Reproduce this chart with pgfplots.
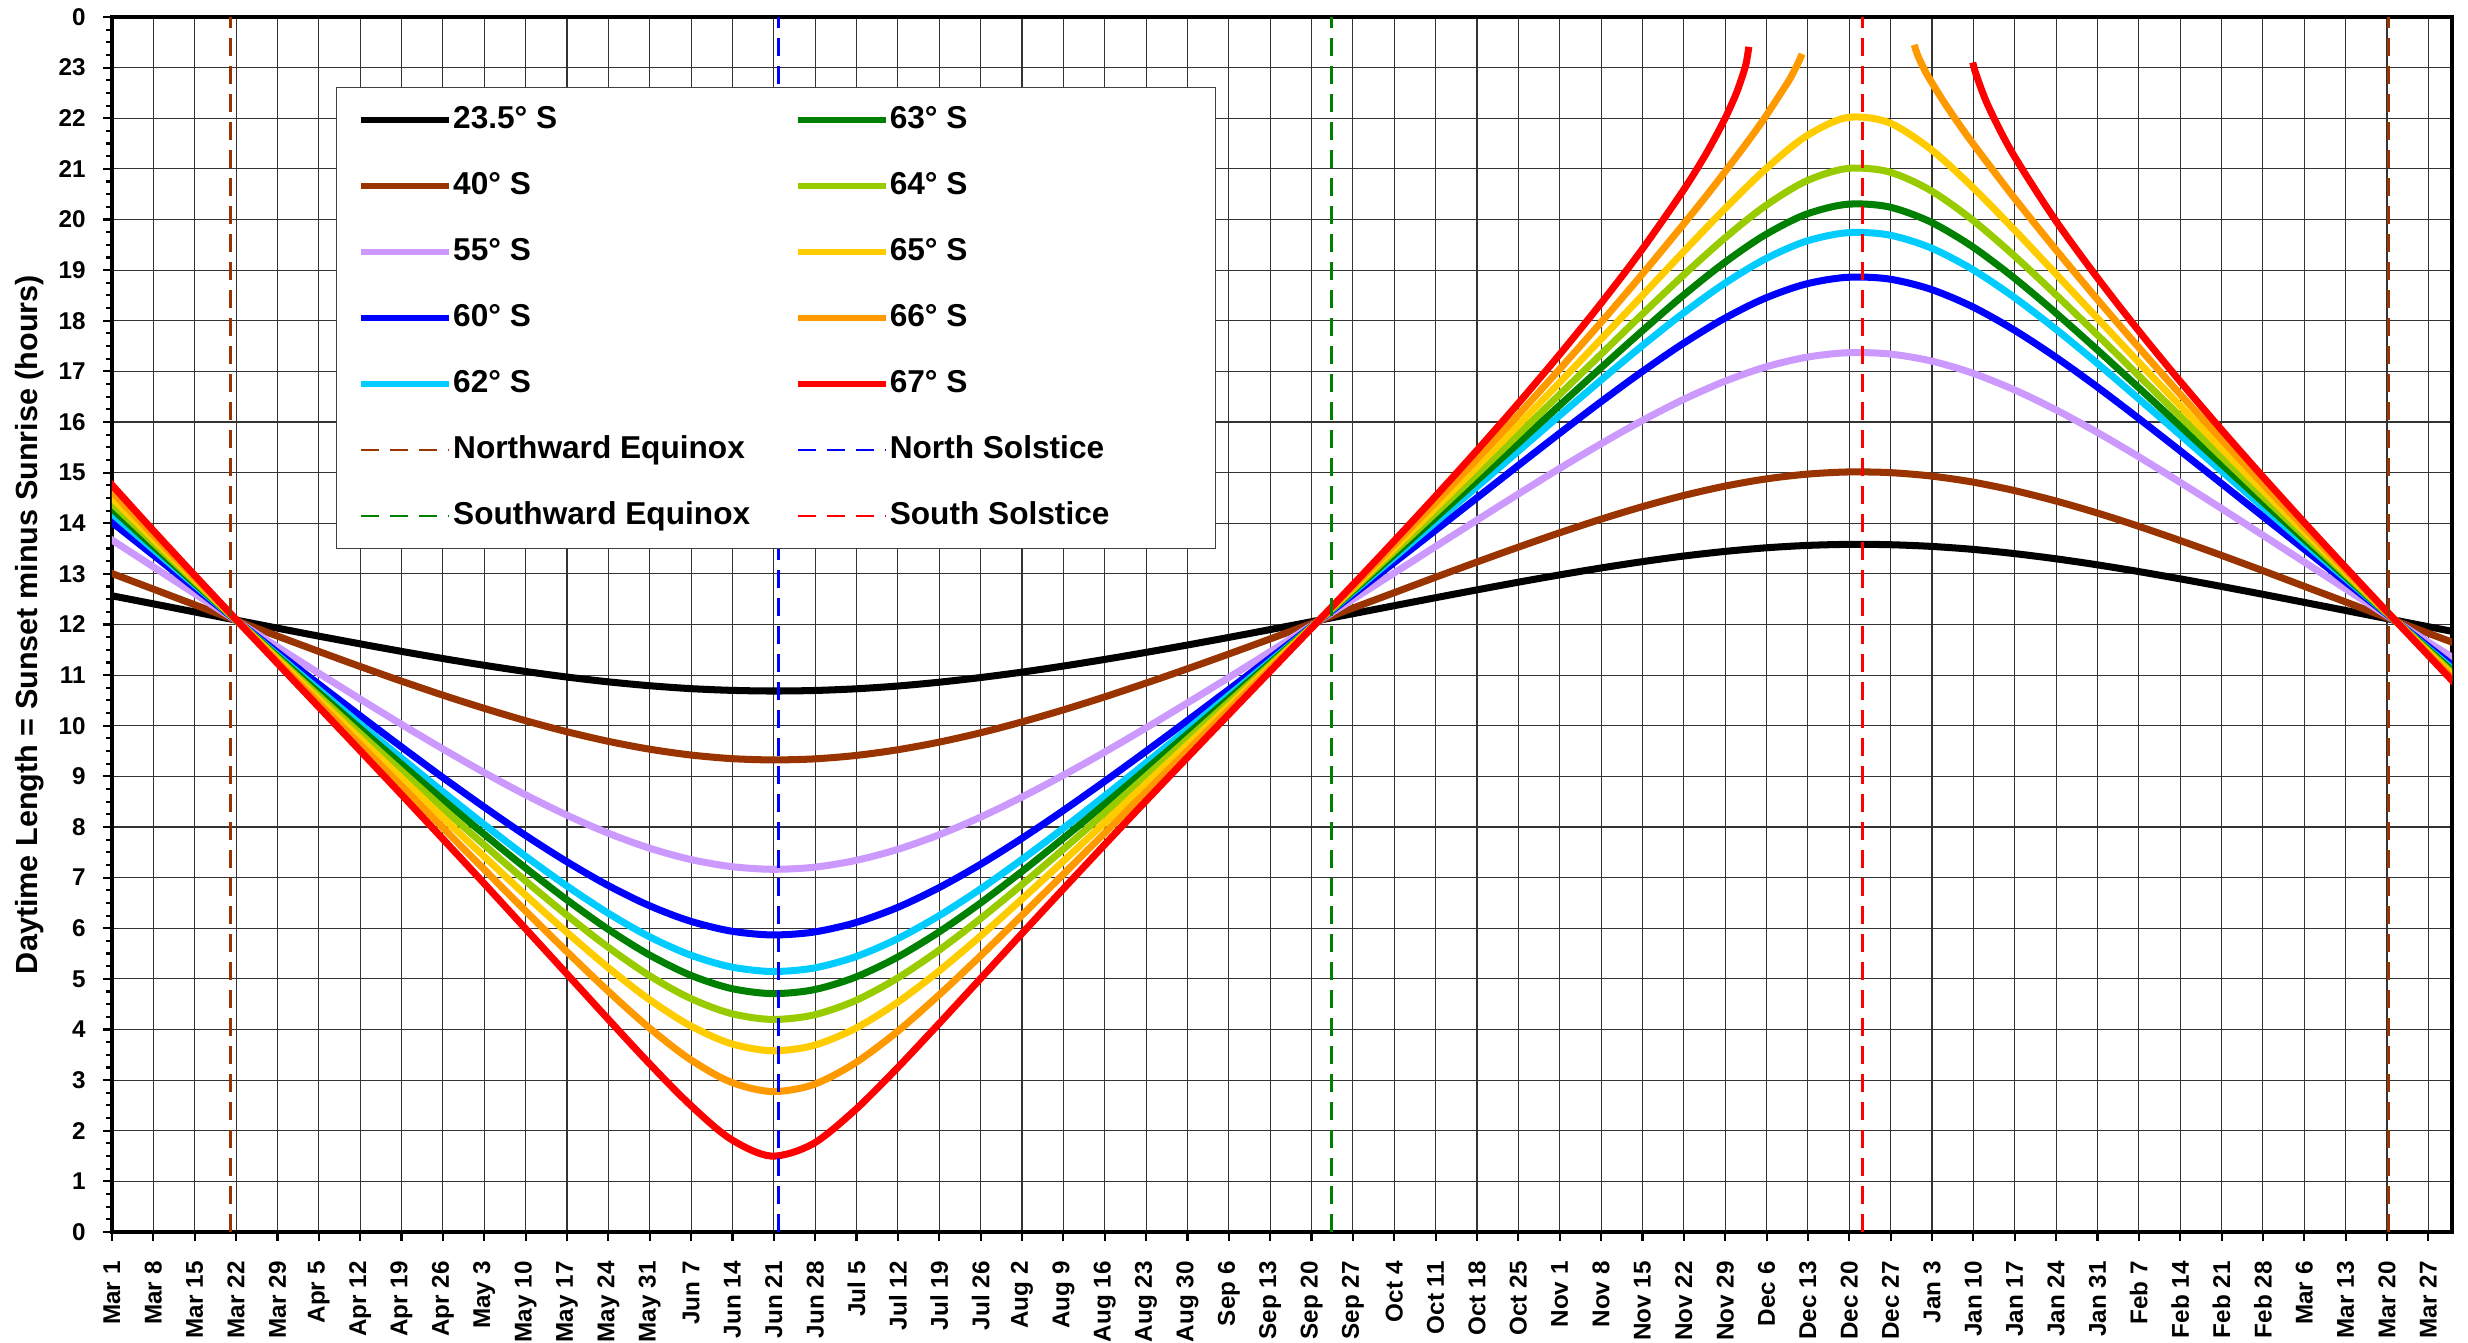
\documentclass[border=0pt]{standalone}
\usepackage{fontspec}
\setmainfont{Liberation Sans}
\usepackage{pgfplots}
\usepackage{pgfplotstable}
\pgfplotsset{compat=1.18}

\definecolor{c40}{HTML}{993300}
\definecolor{c55}{HTML}{CC99FF}
\definecolor{c60}{HTML}{0000FF}
\definecolor{c62}{HTML}{00CCFF}
\definecolor{c63}{HTML}{008000}
\definecolor{c64}{HTML}{99CC00}
\definecolor{c65}{HTML}{FFCC00}
\definecolor{c66}{HTML}{FF9900}
\definecolor{c67}{HTML}{FF0000}

% day length (h), x = days after Mar 1
\pgfplotstableread{
x a23 a40 a55 a60 a62 a63 a64 a65
-0.5 12.578 13.029 13.706 14.064 14.241 14.340 14.446 14.560
6.5 12.419 12.721 13.176 13.416 13.535 13.600 13.671 13.746
13.5 12.259 12.411 12.646 12.771 12.833 12.867 12.904 12.944
20.5 12.098 12.101 12.118 12.131 12.137 12.141 12.145 12.150
27.5 11.939 11.793 11.594 11.495 11.447 11.420 11.392 11.362
34.5 11.781 11.489 11.075 10.864 10.761 10.704 10.643 10.578
41.5 11.628 11.191 10.563 10.240 10.081 9.993 9.898 9.797
48.5 11.479 10.901 10.062 9.624 9.407 9.287 9.157 9.017
55.5 11.337 10.623 9.575 9.019 8.742 8.588 8.421 8.240
62.5 11.203 10.361 9.107 8.434 8.094 7.903 7.696 7.470
69.5 11.080 10.116 8.665 7.871 7.465 7.236 6.984 6.707
76.5 10.969 9.896 8.260 7.348 6.874 6.603 6.304 5.969
83.5 10.873 9.704 7.900 6.873 6.331 6.016 5.665 5.267
90.5 10.795 9.546 7.599 6.468 5.859 5.502 5.096 4.628
97.5 10.736 9.428 7.369 6.153 5.487 5.091 4.636 4.098
104.5 10.700 9.353 7.222 5.949 5.242 4.818 4.324 3.730
111.5 10.686 9.325 7.165 5.868 5.146 4.709 4.199 3.580
118.5 10.695 9.343 7.201 5.920 5.208 4.779 4.280 3.677
125.5 10.727 9.408 7.330 6.099 5.423 5.019 4.554 4.003
132.5 10.780 9.517 7.541 6.389 5.767 5.401 4.984 4.500
139.5 10.854 9.665 7.825 6.773 6.215 5.891 5.527 5.113
146.5 10.945 9.847 8.169 7.229 6.738 6.457 6.146 5.797
153.5 11.051 10.060 8.562 7.739 7.317 7.077 6.814 6.524
160.5 11.170 10.296 8.991 8.286 7.930 7.730 7.511 7.272
167.5 11.300 10.551 9.447 8.861 8.567 8.403 8.226 8.033
174.5 11.439 10.823 9.924 9.453 9.220 9.090 8.951 8.800
181.5 11.584 11.105 10.415 10.058 9.882 9.785 9.681 9.568
188.5 11.734 11.396 10.917 10.671 10.551 10.485 10.414 10.337
195.5 11.888 11.694 11.426 11.291 11.225 11.189 11.150 11.109
202.5 12.044 11.997 11.941 11.916 11.904 11.898 11.891 11.883
209.5 12.202 12.302 12.460 12.545 12.588 12.611 12.636 12.663
216.5 12.360 12.607 12.981 13.179 13.277 13.330 13.388 13.450
223.5 12.518 12.912 13.504 13.817 13.971 14.057 14.149 14.248
230.5 12.673 13.213 14.025 14.457 14.671 14.791 14.919 15.058
237.5 12.825 13.507 14.541 15.097 15.375 15.531 15.699 15.882
244.5 12.970 13.792 15.048 15.733 16.080 16.276 16.489 16.722
251.5 13.107 14.062 15.536 16.357 16.779 17.019 17.283 17.576
258.5 13.233 14.311 15.998 16.957 17.462 17.752 18.076 18.439
265.5 13.345 14.534 16.420 17.520 18.113 18.461 18.854 19.307
272.5 13.438 14.722 16.784 18.021 18.705 19.115 19.590 20.158
279.5 13.511 14.868 17.075 18.432 19.203 19.678 20.245 20.959
286.5 13.560 14.966 17.274 18.720 19.563 20.094 20.748 21.631
293.5 13.582 15.012 17.367 18.857 19.737 20.299 21.005 22.011
300.5 13.577 15.002 17.347 18.828 19.699 20.254 20.948 21.923
307.5 13.545 14.937 17.215 18.633 19.454 19.966 20.592 21.414
314.5 13.488 14.821 16.980 18.296 19.038 19.490 20.023 20.680
321.5 13.406 14.657 16.658 17.846 18.497 18.883 19.327 19.849
328.5 13.305 14.454 16.268 17.316 17.875 18.200 18.566 18.983
335.5 13.187 14.219 15.826 16.732 17.205 17.475 17.775 18.110
342.5 13.055 13.958 15.347 16.113 16.506 16.728 16.971 17.239
349.5 12.912 13.678 14.844 15.476 15.795 15.974 16.168 16.380
356.5 12.762 13.386 14.327 14.831 15.082 15.222 15.373 15.538
363.5 12.607 13.084 13.801 14.181 14.369 14.473 14.586 14.707
370.5 12.448 12.776 13.272 13.533 13.661 13.733 13.809 13.892
377.5 12.288 12.467 12.741 12.887 12.959 12.999 13.041 13.087
384.5 12.127 12.156 12.213 12.246 12.262 12.271 12.281 12.292
391.5 11.967 11.848 11.688 11.609 11.571 11.550 11.527 11.503
396.5 11.854 11.630 11.316 11.157 11.080 11.037 10.992 10.943
}\maintable

% 66 S: midnight sun gap around the December solstice
\pgfplotstableread{
x y
-0.5 14.684
6.5 13.829
13.5 12.986
20.5 12.155
27.5 11.329
34.5 10.507
41.5 9.687
48.5 8.865
55.5 8.042
62.5 7.220
69.5 6.398
76.5 5.592
83.5 4.808
90.5 4.073
97.5 3.436
104.5 2.972
111.5 2.775
118.5 2.903
125.5 3.318
132.5 3.921
139.5 4.633
146.5 5.401
153.5 6.199
160.5 7.009
167.5 7.822
174.5 8.635
181.5 9.446
188.5 10.255
195.5 11.064
202.5 11.876
209.5 12.693
216.5 13.518
223.5 14.356
230.5 15.210
237.5 16.083
244.5 16.980
251.5 17.902
258.5 18.855
265.5 19.843
269.5 20.422
272.5 20.872
276.5 21.489
279.5 21.976
283.5 22.692
284.5 22.897
285.5 23.130
286.0 23.270
295 nan
305.0 23.450
305.5 23.266
306.5 23.009
307.5 22.794
310.5 22.234
314.5 21.567
321.5 20.489
328.5 19.469
335.5 18.488
342.5 17.537
349.5 16.613
356.5 15.717
363.5 14.839
370.5 13.981
377.5 13.137
384.5 12.303
391.5 11.478
396.5 10.890
}\tsixsix

% 67 S
\pgfplotstableread{
x y
-0.5 14.819
6.5 13.917
13.5 13.033
20.5 12.160
27.5 11.294
34.5 10.431
41.5 9.568
48.5 8.700
55.5 7.825
62.5 6.944
69.5 6.052
76.5 5.159
83.5 4.264
90.5 3.381
97.5 2.549
104.5 1.851
111.5 1.500
118.5 1.733
125.5 2.382
132.5 3.191
139.5 4.059
146.5 4.944
153.5 5.833
160.5 6.715
167.5 7.590
174.5 8.456
181.5 9.314
188.5 10.166
195.5 11.016
202.5 11.868
209.5 12.724
216.5 13.591
223.5 14.473
230.5 15.375
237.5 16.303
244.5 17.266
251.5 18.272
258.5 19.338
265.5 20.503
269.5 21.245
272.5 21.884
274.5 22.385
275.5 22.689
276.5 23.060
277.0 23.410
295 nan
314.9 23.100
315.5 22.853
317.5 22.244
321.5 21.334
328.5 20.052
335.5 18.924
342.5 17.871
349.5 16.871
356.5 15.913
363.5 14.983
370.5 14.078
377.5 13.191
384.5 12.316
391.5 11.450
396.5 10.833
}\tsixseven

\begin{document}
\begin{tikzpicture}
\useasboundingbox (-11.2mm,-11.1mm) rectangle (235.6mm,123.2mm);
\begin{axis}[
    scale only axis,
    width=234mm, height=121.5mm,
    xmin=0, xmax=396, ymin=0, ymax=24,
    xtick={0,7,...,392},
    xticklabels={Mar 1,Mar 8,Mar 15,Mar 22,Mar 29,Apr 5,Apr 12,Apr 19,Apr 26,
      May 3,May 10,May 17,May 24,May 31,Jun 7,Jun 14,Jun 21,Jun 28,Jul 5,Jul 12,
      Jul 19,Jul 26,Aug 2,Aug 9,Aug 16,Aug 23,Aug 30,Sep 6,Sep 13,Sep 20,Sep 27,
      Oct 4,Oct 11,Oct 18,Oct 25,Nov 1,Nov 8,Nov 15,Nov 22,Nov 29,Dec 6,Dec 13,
      Dec 20,Dec 27,Jan 3,Jan 10,Jan 17,Jan 24,Jan 31,Feb 7,Feb 14,Feb 21,Feb 28,
      Mar 6,Mar 13,Mar 20,Mar 27},
    ytick={0,1,...,24},
    yticklabels={0,1,2,3,4,5,6,7,8,9,10,11,12,13,14,15,16,17,18,19,20,21,22,23,0},
    minor y tick num=3,
    tick pos=left,
    tick align=outside,
    major tick length=0.9mm,
    minor tick length=0.55mm,
    tick style={black, line width=0.6pt},
    grid=major,
    major grid style={black!80, line width=0.3pt},
    axis line style={black, line width=0.9pt},
    ticklabel style={font=\fontsize{6.9}{8}\selectfont\bfseries},
    xticklabel style={rotate=90, anchor=east},
    xticklabel shift=0.8mm,
    yticklabel shift=0.5mm,
    ylabel={Daytime Length = Sunset minus Sunrise (hours)},
    every axis y label/.style={at={(axis description cs:-0.035,0.5)},
      rotate=90, anchor=center, font=\fontsize{8.7}{10}\selectfont\bfseries},
    unbounded coords=jump,
    legend columns=2,
    legend cell align=left,
    legend image code/.code={\draw[#1] (0mm,0mm) -- (8.8mm,0mm);},
    legend style={
      at={(0.0957,0.9424)}, anchor=north west,
      draw=black!75, line width=0.35pt, fill=white,
      font=\fontsize{9}{10}\selectfont\bfseries,
      inner xsep=2.2mm, inner ysep=1.85mm,
      row sep=3.8mm,
      nodes={inner sep=0pt, text height=2.2mm, text depth=0.6mm},
      /tikz/every odd column/.append style={column sep=0.1mm},
    },
  ]
  \addplot[forget plot, smooth, black, line width=2pt] table[x=x, y=a23] {\maintable};
  \addplot[forget plot, smooth, c40, line width=2pt] table[x=x, y=a40] {\maintable};
  \addplot[forget plot, smooth, c55, line width=2pt] table[x=x, y=a55] {\maintable};
  \addplot[forget plot, smooth, c60, line width=2pt] table[x=x, y=a60] {\maintable};
  \addplot[forget plot, smooth, c62, line width=2pt] table[x=x, y=a62] {\maintable};
  \addplot[forget plot, smooth, c63, line width=2pt] table[x=x, y=a63] {\maintable};
  \addplot[forget plot, smooth, c64, line width=2pt] table[x=x, y=a64] {\maintable};
  \addplot[forget plot, smooth, c65, line width=2pt] table[x=x, y=a65] {\maintable};
  \addplot[forget plot, smooth, c66, line width=2pt] table[x=x, y=y] {\tsixsix};
  \addplot[forget plot, smooth, c67, line width=2pt] table[x=x, y=y] {\tsixseven};

  % equinoxes and solstices
  \addplot[forget plot, c40, line width=0.85pt, dash pattern=on 1.8mm off 1mm] coordinates {(20.0,0) (20.0,24)};
  \addplot[forget plot, c60, line width=0.85pt, dash pattern=on 1.8mm off 1mm] coordinates {(112.76,0) (112.76,24)};
  \addplot[forget plot, c63, line width=0.85pt, dash pattern=on 1.8mm off 1mm] coordinates {(206.4,0) (206.4,24)};
  \addplot[forget plot, c67, line width=0.85pt, dash pattern=on 1.8mm off 1mm] coordinates {(296.26,0) (296.26,24)};
  \addplot[forget plot, c40, line width=0.85pt, dash pattern=on 1.8mm off 1mm] coordinates {(385.24,0) (385.24,24)};

  \addlegendimage{black, line width=1.6pt}
  \addlegendentry{\makebox[34.2mm][l]{23.5° S}}
  \addlegendimage{c63, line width=1.6pt}
  \addlegendentry{\makebox[30.4mm][l]{63° S}}
  \addlegendimage{c40, line width=1.6pt}
  \addlegendentry{\makebox[34.2mm][l]{40° S}}
  \addlegendimage{c64, line width=1.6pt}
  \addlegendentry{\makebox[30.4mm][l]{64° S}}
  \addlegendimage{c55, line width=1.6pt}
  \addlegendentry{\makebox[34.2mm][l]{55° S}}
  \addlegendimage{c65, line width=1.6pt}
  \addlegendentry{\makebox[30.4mm][l]{65° S}}
  \addlegendimage{c60, line width=1.6pt}
  \addlegendentry{\makebox[34.2mm][l]{60° S}}
  \addlegendimage{c66, line width=1.6pt}
  \addlegendentry{\makebox[30.4mm][l]{66° S}}
  \addlegendimage{c62, line width=1.6pt}
  \addlegendentry{\makebox[34.2mm][l]{62° S}}
  \addlegendimage{c67, line width=1.6pt}
  \addlegendentry{\makebox[30.4mm][l]{67° S}}
  \addlegendimage{c40, line width=0.75pt, dash pattern=on 1.8mm off 1.1mm}
  \addlegendentry{\makebox[34.2mm][l]{Northward Equinox}}
  \addlegendimage{c60, line width=0.75pt, dash pattern=on 1.8mm off 1.1mm}
  \addlegendentry{\makebox[30.4mm][l]{North Solstice}}
  \addlegendimage{c63, line width=0.75pt, dash pattern=on 1.8mm off 1.1mm}
  \addlegendentry{\makebox[34.2mm][l]{Southward Equinox}}
  \addlegendimage{c67, line width=0.75pt, dash pattern=on 1.8mm off 1.1mm}
  \addlegendentry{\makebox[30.4mm][l]{South Solstice}}
\end{axis}
\end{tikzpicture}
\end{document}
